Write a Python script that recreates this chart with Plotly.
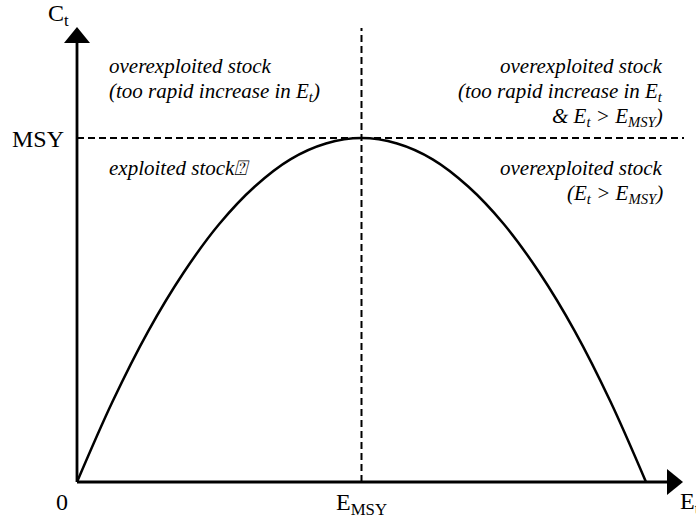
import plotly.graph_objects as go

# ---- data (E in units of E_MSY, C in units of MSY) ----
effort = [0, 0.125, 0.25, 0.375, 0.5, 0.625, 0.75, 0.875, 1.0,
          1.125, 1.25, 1.375, 1.5, 1.625, 1.75, 1.875, 2.0]
catch = [0, 0.234, 0.438, 0.609, 0.75, 0.859, 0.938, 0.984, 1.0,
         0.984, 0.938, 0.859, 0.75, 0.609, 0.438, 0.234, 0]
E_MSY = 1.0
MSY = 1.0
x_tick_labels = ["0", "E<sub>MSY</sub>"]
y_tick_label = "MSY"
x_title = "E<sub>t</sub>"
y_title = "C<sub>t</sub>"
left_upper = ["overexploited stock", "(too rapid increase in E<sub>t</sub>)"]
left_lower = ["exploited stock\u2370"]
right_upper = ["overexploited stock", "(too rapid increase in E<sub>t</sub>",
               "&amp; E<sub>t</sub> &gt; E<sub>MSY</sub>)"]
right_lower = ["overexploited stock", "(E<sub>t</sub> &gt; E<sub>MSY</sub>)"]

# ---- layout geometry (pixels) ----
W, H = 696, 519
X0, Y0 = 77, 482          # pixel position of origin
PXE, PXC = 284.5, 344     # pixels per unit E, per unit C

def dx(px):
    return (px - X0) / PXE

def dy(py):
    return (Y0 - py) / PXC

FONT = "Liberation Serif"
fig = go.Figure()
fig.add_trace(go.Scatter(x=effort, y=catch, mode="lines",
                         line=dict(color="black", width=2.5, shape="spline"),
                         hoverinfo="skip", showlegend=False))

shapes = []
# axes
shapes.append(dict(type="line", x0=0, y0=0, x1=0, y1=dy(43), line=dict(color="black", width=2.8)))
shapes.append(dict(type="line", x0=0, y0=0, x1=dx(668), y1=0, line=dict(color="black", width=2.8)))
# arrowheads
shapes.append(dict(type="path",
                   path=f"M {dx(64)} {dy(43)} L {dx(90)} {dy(43)} L {dx(77)} {dy(27)} Z",
                   fillcolor="black", line=dict(color="black", width=0)))
shapes.append(dict(type="path",
                   path=f"M {dx(667)} {dy(469)} L {dx(667)} {dy(495)} L {dx(683)} {dy(482)} Z",
                   fillcolor="black", line=dict(color="black", width=0)))
# dashed reference lines
shapes.append(dict(type="line", x0=0, y0=MSY, x1=dx(684), y1=MSY,
                   line=dict(color="black", width=2, dash="7px,4px")))
shapes.append(dict(type="line", x0=E_MSY, y0=0, x1=E_MSY, y1=dy(28),
                   line=dict(color="black", width=2, dash="7px,4px")))

ann = []
def label(text, x, y, xanchor="center", yanchor="middle", size=24, italic=False):
    ann.append(dict(text=f"<i>{text}</i>" if italic else text, x=x, y=y, xref="x", yref="y",
                    xanchor=xanchor, yanchor=yanchor, showarrow=False,
                    font=dict(family=FONT, size=size, color="black")))

label(y_title, dx(58), dy(15))
label(y_tick_label, dx(66), dy(139), xanchor="right")
label(x_tick_labels[0], dx(62), dy(502))
label(x_tick_labels[1], E_MSY, dy(504))
label(x_title, dx(678), dy(503), xanchor="left")

def block(lines, xpx, ypx0, xanchor, step=25.5):
    for i, t in enumerate(lines):
        label(t, dx(xpx), dy(ypx0 + i * step), xanchor=xanchor, size=21, italic=True)

block(left_upper, 107, 66, "left")
block(left_lower, 107, 168, "left")
block(right_upper, 665, 66, "right")
block(right_lower, 665, 168, "right")

fig.update_layout(
    width=W, height=H, margin=dict(l=0, r=0, t=0, b=0),
    paper_bgcolor="white", plot_bgcolor="white",
    xaxis=dict(range=[dx(0), dx(W)], visible=False, fixedrange=True),
    yaxis=dict(range=[dy(H), dy(0)], visible=False, fixedrange=True),
    shapes=shapes, annotations=ann, showlegend=False,
)
fig.write_html("out.html", config={"displayModeBar": False},
               post_script="document.body.style.margin='0';")
